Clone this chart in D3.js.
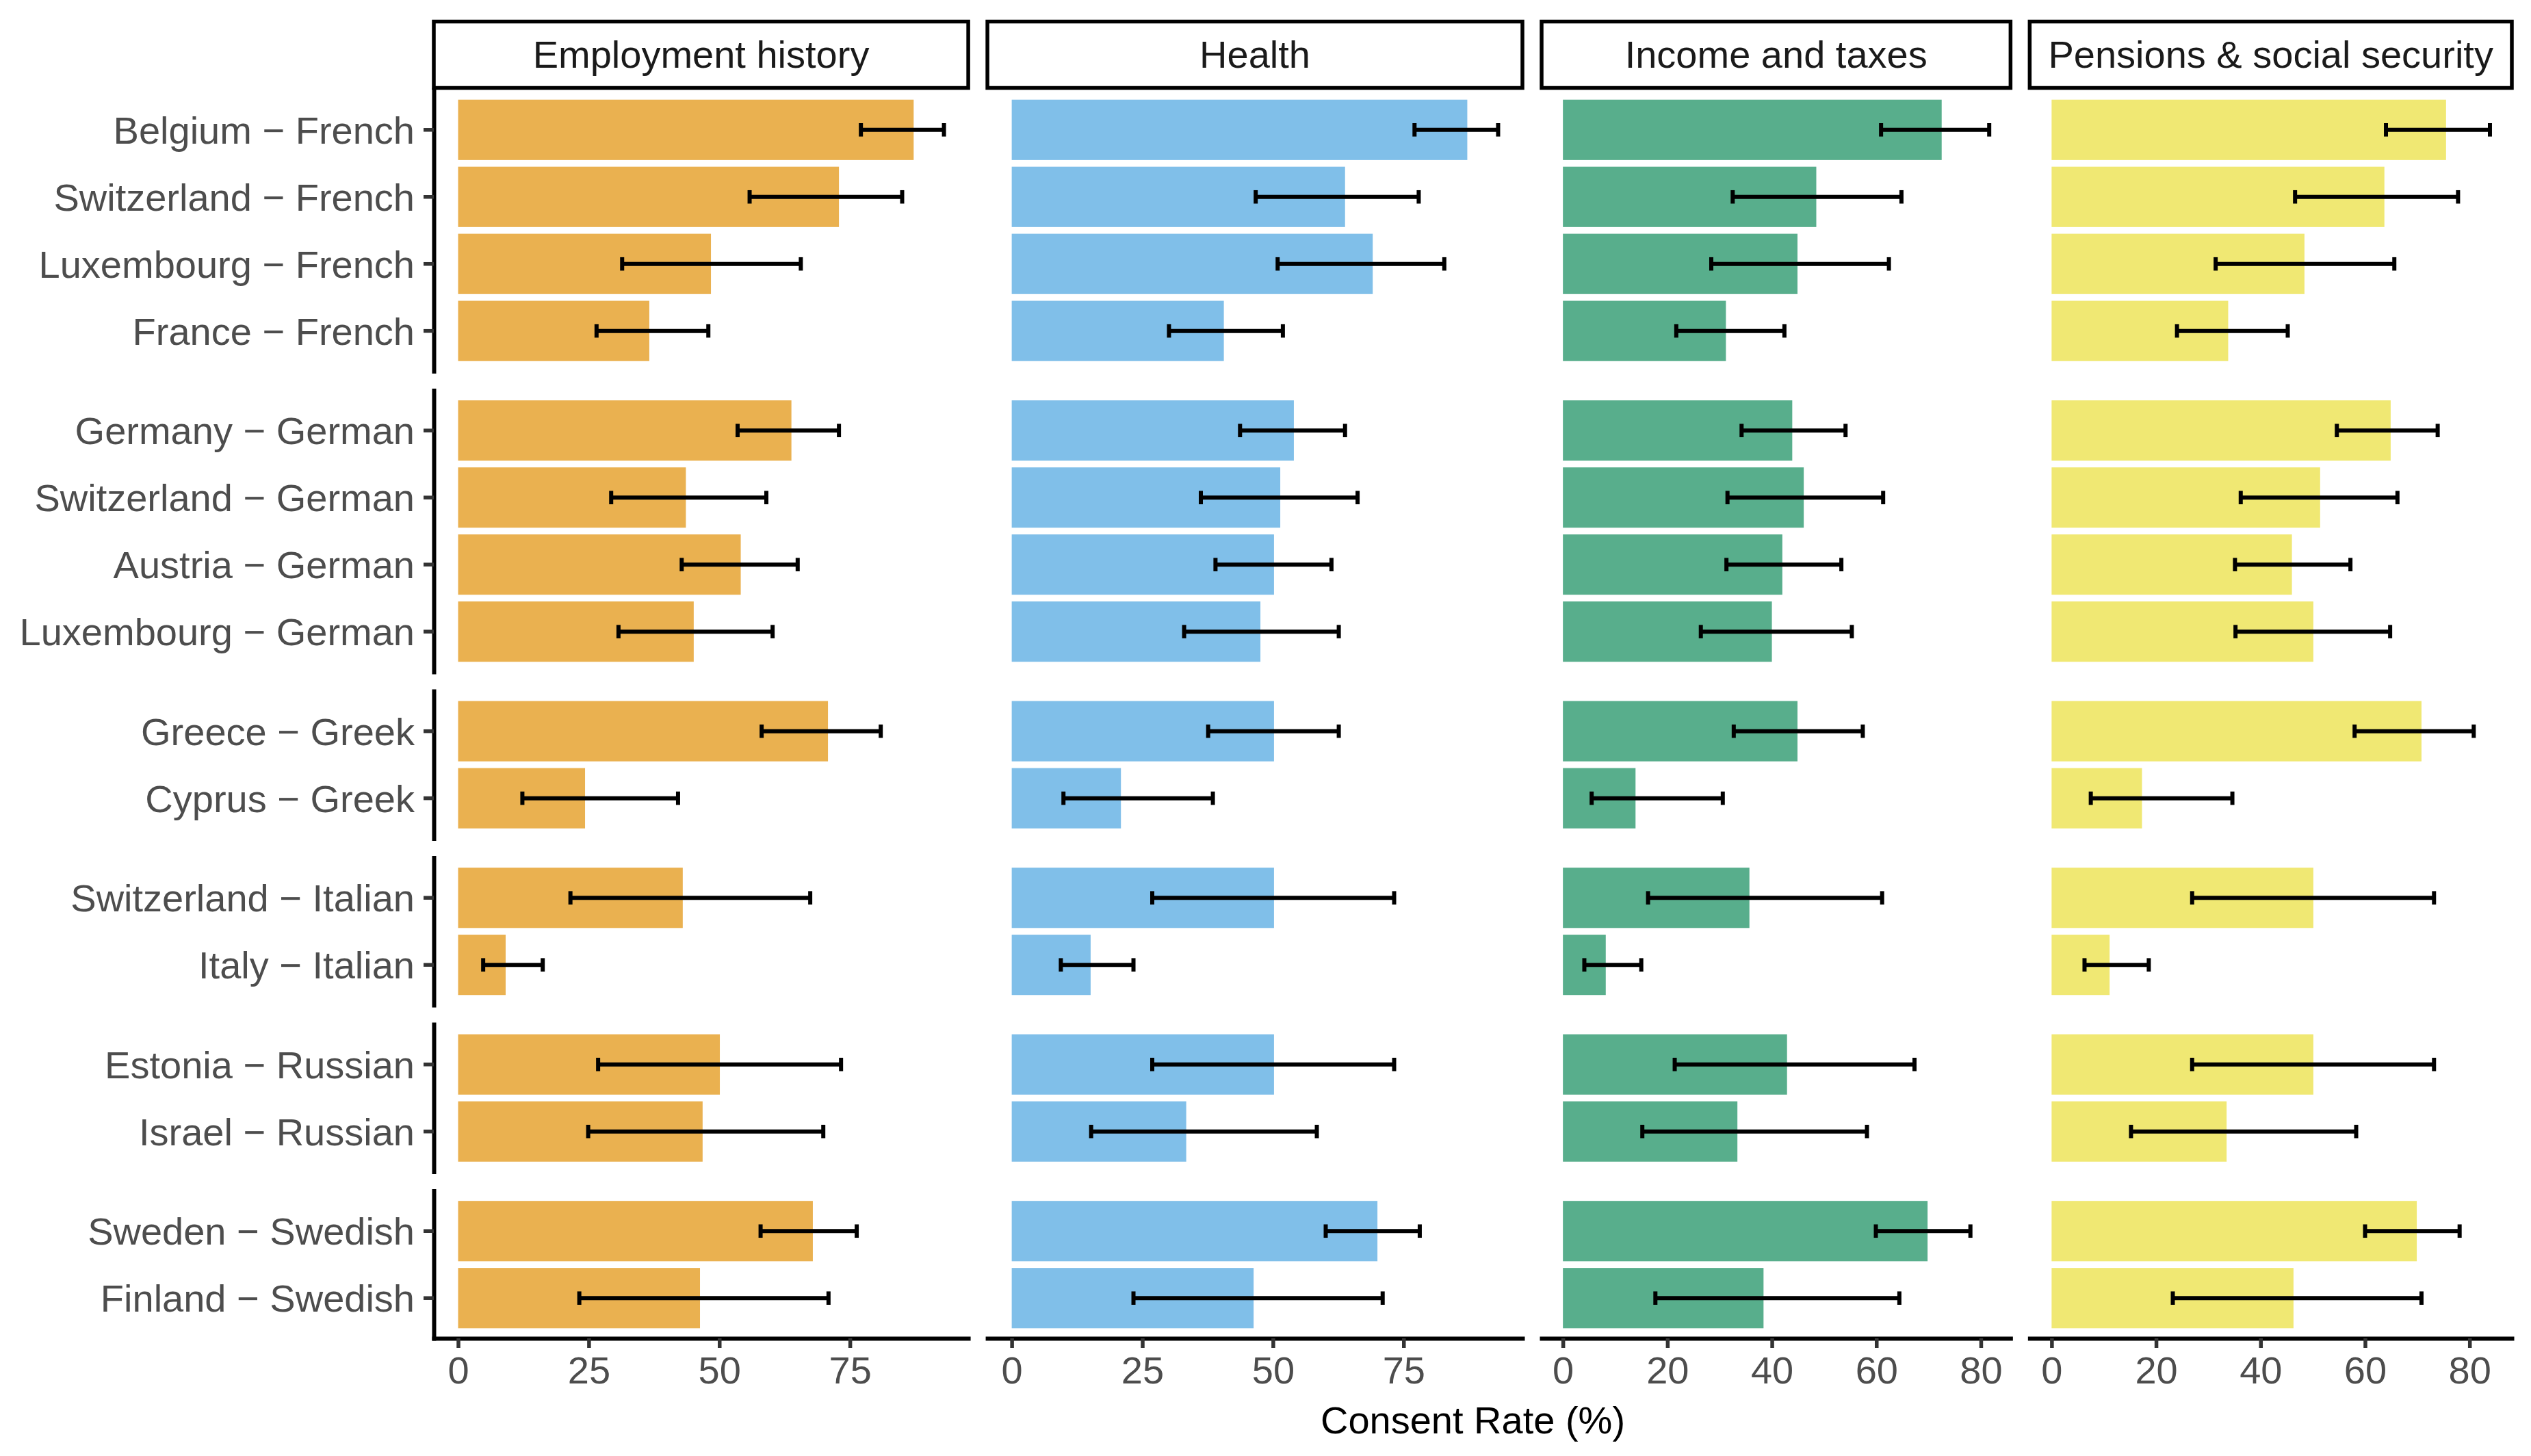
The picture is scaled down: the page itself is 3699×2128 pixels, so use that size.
<!DOCTYPE html>
<html>
<head>
<meta charset="utf-8">
<script src="https://cdn.jsdelivr.net/npm/d3@7"></script>
<style>
  html, body { margin: 0; padding: 0; background: #ffffff; }
  svg { display: block; }
</style>
</head>
<body>
<script>
// ---------------- DATA ----------------
const countries = ["Belgium","Switzerland","Luxembourg","France",
                   "Germany","Switzerland","Austria","Luxembourg",
                   "Greece","Cyprus",
                   "Switzerland","Italy",
                   "Estonia","Israel",
                   "Sweden","Finland"];
const languages = ["French","French","French","French",
                   "German","German","German","German",
                   "Greek","Greek",
                   "Italian","Italian",
                   "Russian","Russian",
                   "Swedish","Swedish"];
const languageGroups = ["French","German","Greek","Italian","Russian","Swedish"];
const topics = ["Employment history","Health","Income and taxes","Pensions & social security"];
const topicColors = ["#EAB150","#80BFE9","#58AE8C","#F0E873"];

const employmentRate = [87.2,72.9,48.4,36.6,63.8,43.6,54.1,45.1,70.8,24.3,43.0,9.1,50.1,46.8,67.9,46.3];
const employmentLow  = [77.1,55.8,31.4,26.5,53.5,29.3,42.8,30.7,58.1,12.3,21.5,4.8,26.8,24.9,57.9,23.2];
const employmentHigh = [93.0,85.0,65.6,47.9,72.9,59.0,65.0,60.2,80.9,42.1,67.4,16.2,73.3,69.9,76.3,70.9];

const healthRate = [87.2,63.8,69.1,40.6,54.0,51.4,50.2,47.6,50.2,20.9,50.2,15.1,50.2,33.4,70.0,46.3];
const healthLow  = [77.1,46.7,50.9,30.1,43.7,36.2,39.0,33.0,37.6,9.9,26.9,9.4,26.9,15.2,60.1,23.3];
const healthHigh = [93.1,77.9,82.8,51.9,63.8,66.2,61.2,62.6,62.6,38.5,73.2,23.3,73.2,58.4,78.1,71.0];

const incomeRate = [72.5,48.5,44.9,31.2,43.9,46.1,42.0,40.0,44.9,13.9,35.7,8.2,42.9,33.4,69.8,38.4];
const incomeLow  = [60.9,32.5,28.4,21.7,34.2,31.5,31.3,26.4,32.7,5.5,16.3,4.1,21.4,15.2,59.9,17.7];
const incomeHigh = [81.6,64.8,62.4,42.4,54.1,61.3,53.3,55.3,57.4,30.6,61.1,15.0,67.3,58.2,78.0,64.4];

const pensionsRate = [75.5,63.7,48.4,33.8,64.9,51.4,46.0,50.1,70.8,17.3,50.1,11.1,50.1,33.5,69.9,46.3];
const pensionsLow  = [64.0,46.6,31.4,24.0,54.6,36.2,35.1,35.2,58.0,7.5,26.9,6.3,26.9,15.2,60.0,23.2];
const pensionsHigh = [83.9,77.8,65.6,45.2,73.9,66.2,57.2,64.8,80.8,34.6,73.2,18.6,73.2,58.3,78.1,70.8];

const ticksEmployment = [0,25,50,75];
const ticksHealth = [0,25,50,75];
const ticksIncome = [0,20,40,60,80];
const ticksPensions = [0,20,40,60,80];

const xTitle = "Consent Rate (%)";

// ---------------- BUILD ----------------
const rates = [employmentRate, healthRate, incomeRate, pensionsRate];
const lows = [employmentLow, healthLow, incomeLow, pensionsLow];
const highs = [employmentHigh, healthHigh, incomeHigh, pensionsHigh];
const tickSets = [ticksEmployment, ticksHealth, ticksIncome, ticksPensions];

const rowLabels = countries.map((c, i) => c + " \u2212 " + languages[i]);

const W = 3699, H = 2128;
const FONT = "'Liberation Sans', Arial, Helvetica, sans-serif";
const FS = 56;

const plotLeft = 634, plotRight = 3671, plotTop = 131, plotBottom = 1956;
const gapX = 28, gapY = 28;

const svg = d3.select("body").append("svg")
  .attr("width", W).attr("height", H)
  .attr("viewBox", `0 0 ${W} ${H}`);
svg.append("rect").attr("width", W).attr("height", H).attr("fill", "#ffffff");

// column layout (space = free_x)
const colMax = highs.map(h => d3.max(h));
const colSpan = colMax.map(m => m * 1.1);
const pxPerUnit = (plotRight - plotLeft - gapX * (topics.length - 1)) / d3.sum(colSpan);
let cx = plotLeft;
const cols = topics.map((t, j) => {
  const w = colSpan[j] * pxPerUnit;
  const c = { x0: cx, x1: cx + w };
  cx += w + gapX;
  c.scale = d3.scaleLinear().domain([-0.05 * colMax[j], 1.05 * colMax[j]]).range([c.x0, c.x1]);
  return c;
});

// row layout (space = free_y)
const groupIdx = languageGroups.map(g => d3.range(rowLabels.length).filter(i => languages[i] === g));
const rowSpan = groupIdx.map(a => a.length - 1 + 1.2);
const pxPerRow = (plotBottom - plotTop - gapY * (languageGroups.length - 1)) / d3.sum(rowSpan);
let cy = plotTop;
const rows = groupIdx.map((idx, k) => {
  const h = rowSpan[k] * pxPerRow;
  const r = { y0: cy, y1: cy + h, idx };
  cy += h + gapY;
  r.scale = d3.scaleBand().domain(idx.map(i => rowLabels[i])).range([r.y0, r.y1])
    .paddingInner(0.1).paddingOuter(0.15);
  return r;
});

// bars and error bars
const EB = 6;
cols.forEach((c, j) => {
  const g = svg.append("g").attr("class", "col-" + j);
  rows.forEach(r => {
    const y = r.scale;
    const bw = y.bandwidth();
    const step = y.step();
    r.idx.forEach(i => {
      const lab = rowLabels[i];
      g.append("rect")
        .attr("x", c.scale(0))
        .attr("y", y(lab))
        .attr("width", c.scale(rates[j][i]) - c.scale(0))
        .attr("height", bw)
        .attr("fill", topicColors[j]);
      const yc = y(lab) + bw / 2;
      const capH = step * 0.2 / 2;
      g.append("line")
        .attr("x1", c.scale(lows[j][i])).attr("x2", c.scale(highs[j][i]))
        .attr("y1", yc).attr("y2", yc)
        .attr("stroke", "#000").attr("stroke-width", EB);
      [lows[j][i], highs[j][i]].forEach(v => {
        g.append("line")
          .attr("x1", c.scale(v)).attr("x2", c.scale(v))
          .attr("y1", yc - capH).attr("y2", yc + capH)
          .attr("stroke", "#000").attr("stroke-width", EB);
      });
    });
  });
});

// strips
cols.forEach((c, j) => {
  svg.append("rect")
    .attr("x", c.x0).attr("y", 31.5)
    .attr("width", c.x1 - c.x0).attr("height", 97)
    .attr("fill", "#ffffff").attr("stroke", "#000").attr("stroke-width", 5.5);
  svg.append("text")
    .attr("x", (c.x0 + c.x1) / 2).attr("y", 99)
    .attr("text-anchor", "middle")
    .attr("font-family", FONT).attr("font-size", FS)
    .attr("fill", "#1a1a1a")
    .text(topics[j]);
});

// y axes (left-most column only)
rows.forEach(r => {
  const ax = svg.append("g")
    .attr("transform", `translate(${plotLeft},0)`)
    .call(d3.axisLeft(r.scale).tickSize(15).tickSizeOuter(0).tickPadding(13));
  ax.select(".domain").attr("stroke", "#000").attr("stroke-width", 6)
    .attr("stroke-linecap", "square");
  ax.selectAll(".tick line").attr("stroke", "#333333").attr("stroke-width", 5.5);
  ax.selectAll(".tick text")
    .attr("font-family", FONT).attr("font-size", FS)
    .attr("fill", "#4d4d4d").attr("dy", "0.36em");
});

// x axes (bottom row)
cols.forEach((c, j) => {
  const ax = svg.append("g")
    .attr("transform", `translate(0,${plotBottom})`)
    .call(d3.axisBottom(c.scale).tickValues(tickSets[j]).tickFormat(d3.format("d"))
      .tickSize(14).tickSizeOuter(0).tickPadding(12));
  ax.select(".domain").attr("stroke", "#000").attr("stroke-width", 6)
    .attr("stroke-linecap", "square");
  ax.selectAll(".tick line").attr("stroke", "#333333").attr("stroke-width", 5.5);
  ax.selectAll(".tick text")
    .attr("font-family", FONT).attr("font-size", FS)
    .attr("fill", "#4d4d4d");
});

// x title
svg.append("text")
  .attr("x", (plotLeft + plotRight) / 2).attr("y", 2095)
  .attr("text-anchor", "middle")
  .attr("font-family", FONT).attr("font-size", FS)
  .attr("fill", "#000")
  .text(xTitle);
</script>
</body>
</html>
